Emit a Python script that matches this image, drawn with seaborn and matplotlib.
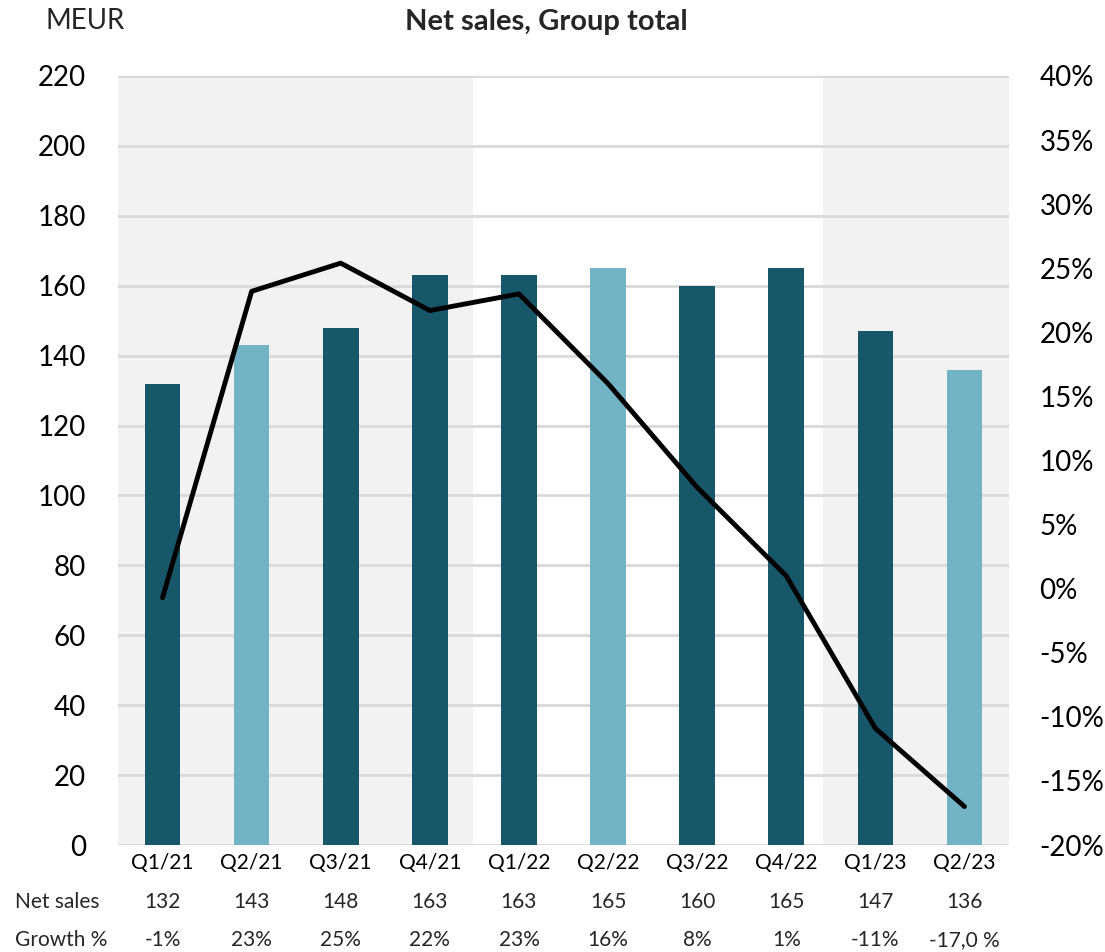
import numpy as np
import pandas as pd
import matplotlib
matplotlib.use("Agg")
import matplotlib.pyplot as plt
import matplotlib.transforms as mtransforms
import seaborn as sns

categories = ["Q1/21", "Q2/21", "Q3/21", "Q4/21", "Q1/22", "Q2/22", "Q3/22", "Q4/22", "Q1/23", "Q2/23"]
net_sales = [132, 143, 148, 163, 163, 165, 160, 165, 147, 136]
growth_pct = [-0.7, 23.2, 25.4, 21.7, 23.0, 16.0, 7.9, 1.0, -10.9, -17.0]
net_sales_labels = ["132", "143", "148", "163", "163", "165", "160", "165", "147", "136"]
growth_labels = ["-1%", "23%", "25%", "22%", "23%", "16%", "8%", "1%", "-11%", "-17,0 %"]
bar_shade = ["dark", "light", "dark", "dark", "dark", "light", "dark", "dark", "dark", "light"]

DARK = "#175769"
LIGHT = "#72B3C6"
GRAY_BG = "#F2F2F2"
GRID = "#D9D9D9"

sns.set_theme(style="white")
plt.rcParams["font.family"] = ["Lato", "DejaVu Sans"]

W, H = 1105, 952
fig = plt.figure(figsize=(W / 100, H / 100), dpi=100)
ax = fig.add_axes([118 / W, (H - 845) / H, 891 / W, 769 / H])

df = pd.DataFrame({"cat": categories, "sales": net_sales, "shade": bar_shade})
sns.barplot(data=df, x="cat", y="sales", hue="shade",
            palette={"dark": DARK, "light": LIGHT}, width=0.4,
            legend=False, ax=ax, zorder=3, saturation=1, linewidth=0, edgecolor="none")

n = len(categories)
ax.set_xlim(-0.5, n - 0.5)
ax.set_ylim(0, 220)
ax.set_yticks(np.arange(0, 221, 20))
ax.axvspan(-0.5, 3.48, color=GRAY_BG, zorder=0, lw=0)
ax.axvspan(7.41, 9.5, color=GRAY_BG, zorder=0, lw=0)
ax.yaxis.grid(True, color=GRID, lw=2, zorder=1)
ax.set_axisbelow(False)
for sp in ax.spines.values():
    sp.set_visible(False)
ax.set_xlabel("")
ax.set_ylabel("")
ax.tick_params(axis="y", labelsize=20, pad=23, length=0, colors="black")
ax.tick_params(axis="x", labelsize=15, pad=6, length=0, colors="black")

ax2 = ax.twinx()
sns.lineplot(x=categories, y=growth_pct, ax=ax2, color="black", lw=3.5, sort=False, zorder=5)
ax2.set_ylim(-20, 40)
ax2.set_yticks(np.arange(-20, 41, 5))
ax2.set_yticklabels([f"{v}%" for v in range(-20, 41, 5)])
ax2.tick_params(axis="y", labelsize=20, pad=22, length=0, colors="black")
ax2.grid(False)
for sp in ax2.spines.values():
    sp.set_visible(False)
ax.set_zorder(0)
ax2.set_zorder(1)
ax2.patch.set_visible(False)

trans = mtransforms.blended_transform_factory(ax.transData, fig.transFigure)
y_row1 = 1 - 902 / H
y_row2 = 1 - 940 / H
for i in range(n):
    ax.text(i, y_row1, net_sales_labels[i], transform=trans, ha="center", va="center", fontsize=15)
    ax.text(i, y_row2, growth_labels[i], transform=trans, ha="center", va="center", fontsize=15)
fig.text(15 / W, y_row1, "Net sales", ha="left", va="center", fontsize=15)
fig.text(15 / W, y_row2, "Growth %", ha="left", va="center", fontsize=15)

fig.text(45 / W, 1 - 21 / H, "MEUR", ha="left", va="center", fontsize=20)
fig.text(546 / W, 1 - 22 / H, "Net sales, Group total", ha="center", va="center",
         fontsize=21, fontweight="bold")

fig.savefig("out.png", dpi=100, facecolor="white")
